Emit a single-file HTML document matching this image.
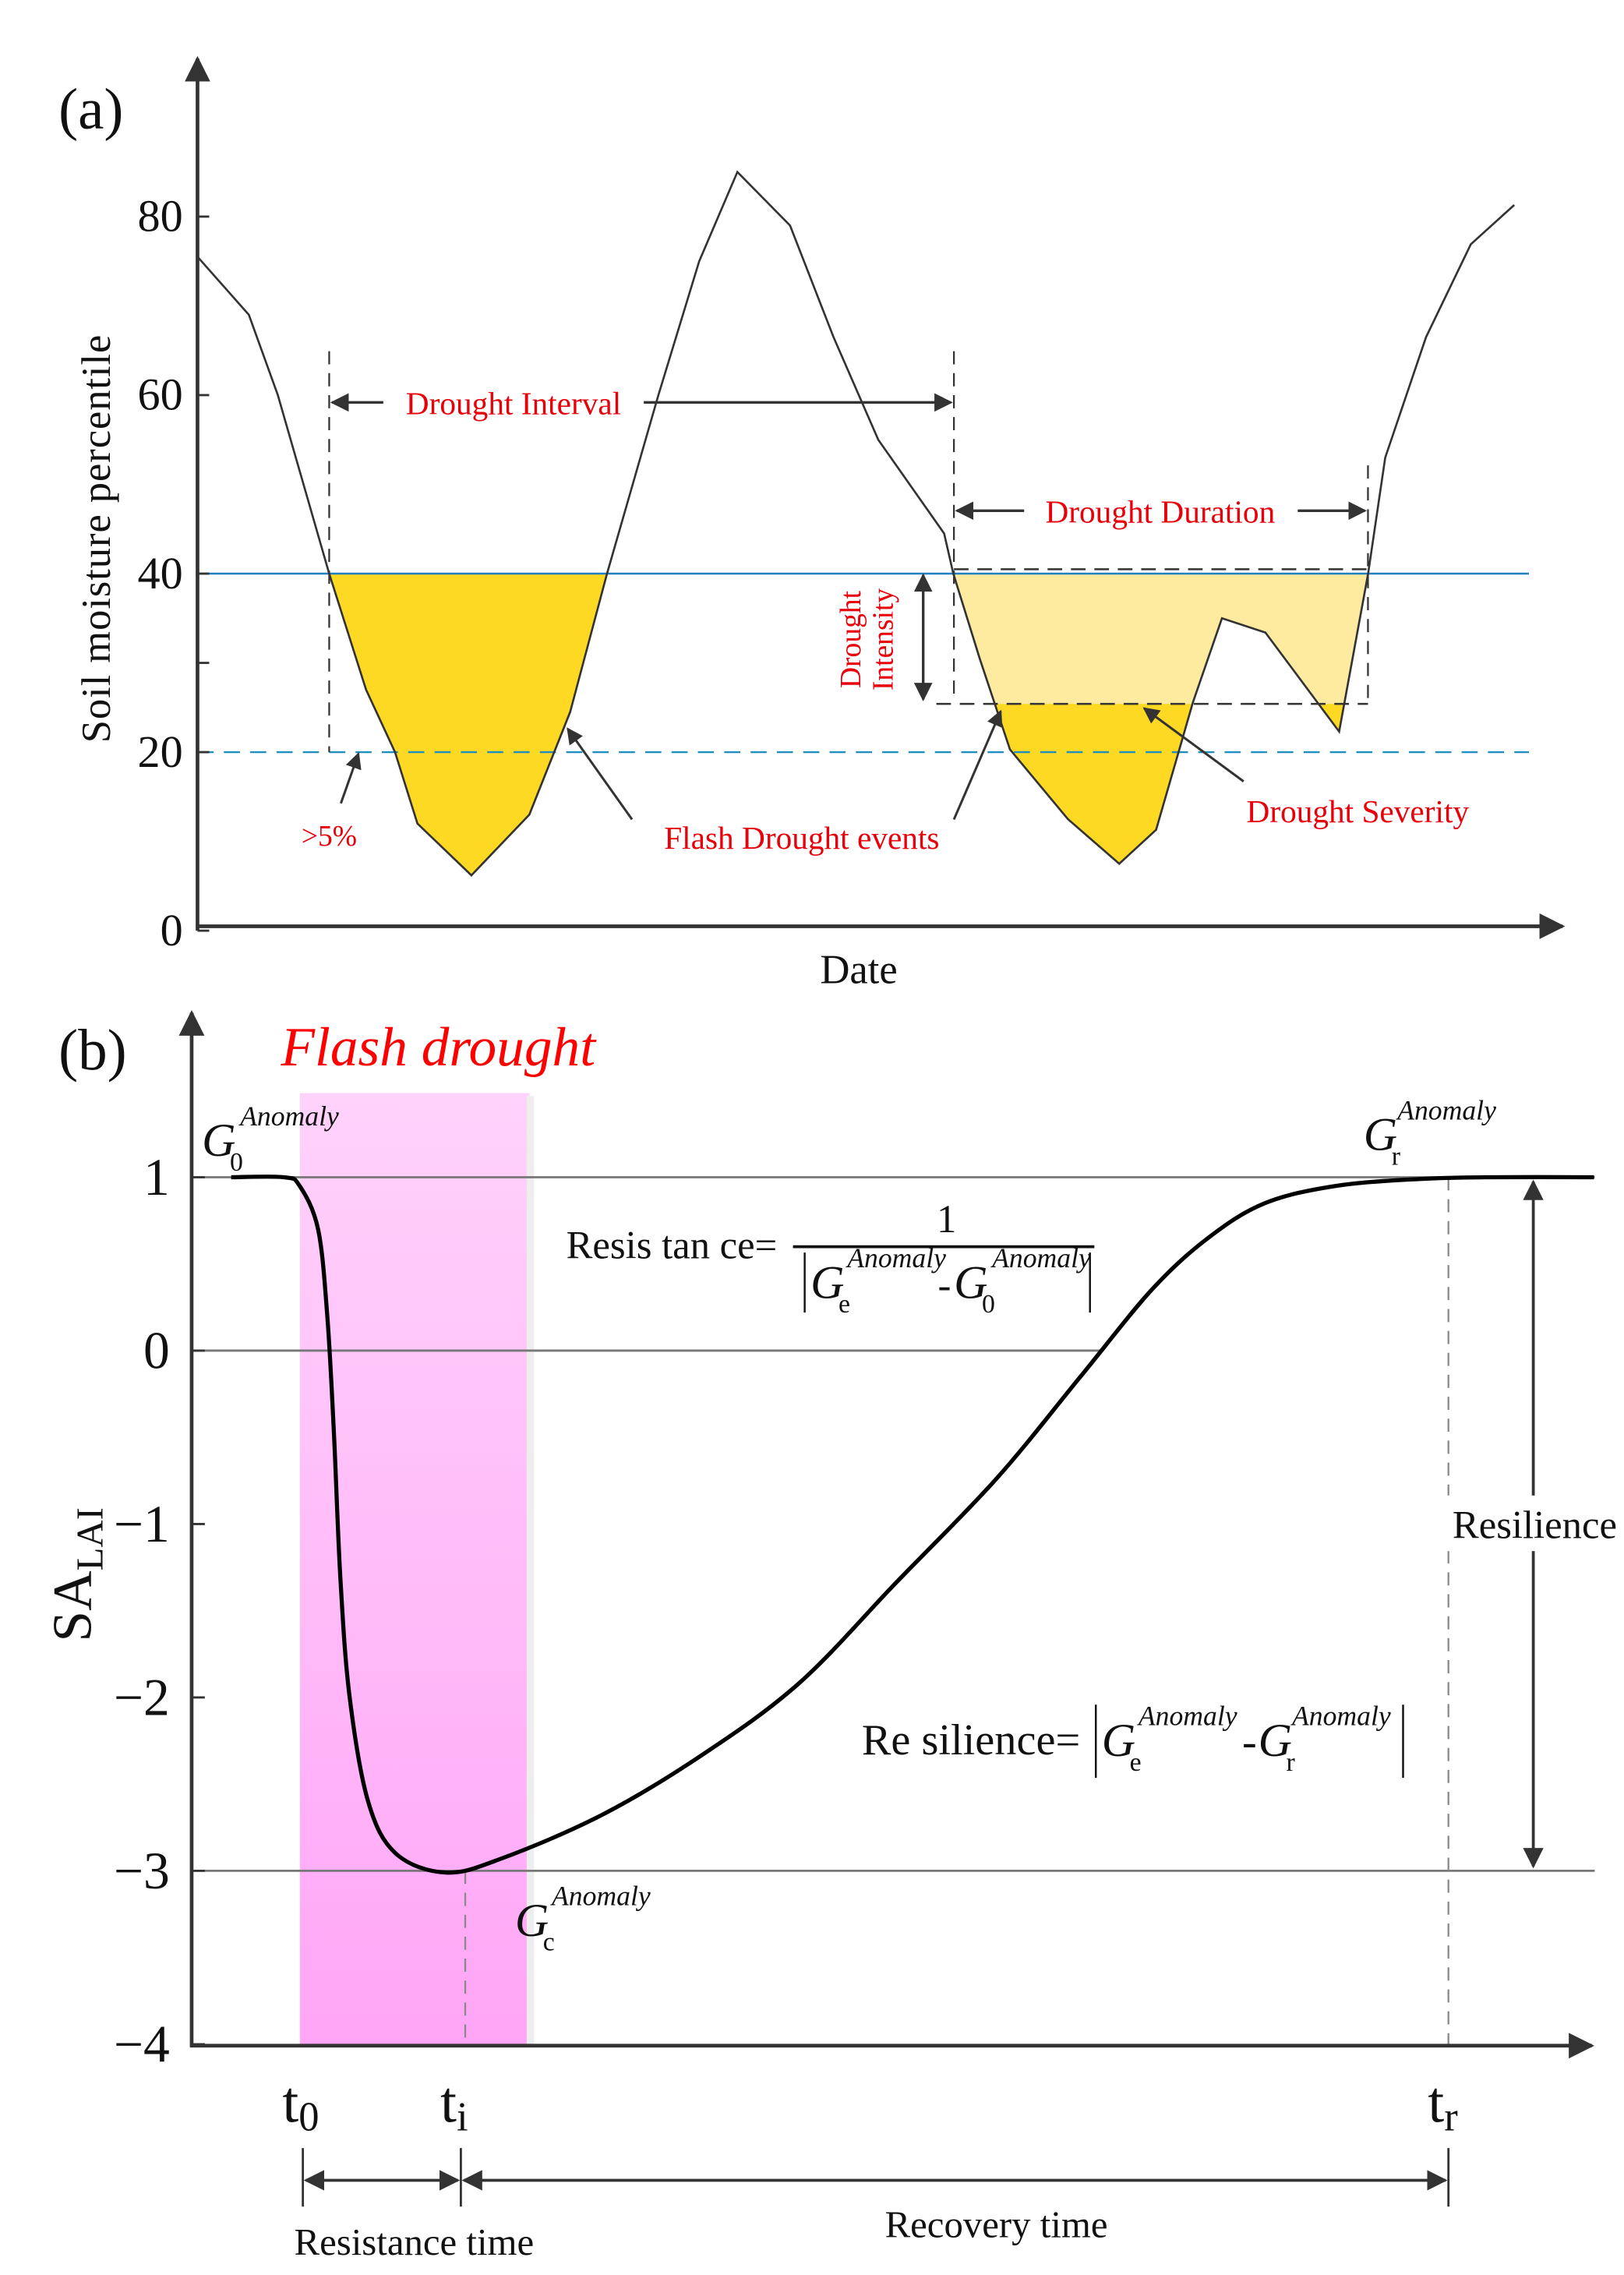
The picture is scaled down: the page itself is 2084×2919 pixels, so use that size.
<!DOCTYPE html>
<html><head><meta charset="utf-8"><style>
html,body{margin:0;padding:0;background:#fff;}
svg{display:block;font-family:"Liberation Serif",serif;}
</style></head><body>
<svg id="fig" width="2084" height="2919" viewBox="0 0 1110 1554.7" xmlns="http://www.w3.org/2000/svg">
<defs>
<marker id="ah" viewBox="0 0 10 10" refX="9" refY="5" markerWidth="7" markerHeight="7" orient="auto-start-reverse"><path d="M0,0 L10,5 L0,10 z" fill="#333"/></marker>
<linearGradient id="pink" x1="0" y1="0" x2="0" y2="1"><stop offset="0" stop-color="#ffd2fb"/><stop offset="1" stop-color="#ffa6f6"/></linearGradient>
<clipPath id="clipLow"><rect x="600" y="481" width="400" height="200"/></clipPath>
<clipPath id="clipHigh"><rect x="600" y="300" width="400" height="181"/></clipPath>
</defs>
<g id="panelA"></g>
<g id="panelB"></g>
</svg>
<script>
// ---- Panel (a) data ----
const aDays = [0,3.9,6.1,10,12.8,15,16.7,20.8,25.2,28.3,31.1,35,38.1,41,45,48.3,51.7,56.7,57.4,59.4,61.7,66.1,70,72.8,75.6,77.8,81.1,86.7,88.9,90.2,93.3,96.7,100];
const aValues = [75.5,69,60,40,27,20,12,6.2,13,24.5,40,60,75,85,79,66.5,55,44.5,40,30.5,20.3,12.5,7.5,11.3,25.6,35,33.4,22.3,40,53,66.5,76.9,81.3];
const aTicks = [0,20,40,60,80];
const threshold = 40, flashLevel = 20, intensityLevel = 25;
// ---- Panel (b) data ----
const bTimes = [3,7,8.2,9.6,10.3,10.8,11.3,12,13.4,15.5,19.3,23.5,31.1,38.6,46.1,53.6,61.1,67.5,72.9,77.2,81.5,86.9,93.3,98.7,106.5];
const bValues = [1,1,0.95,0.7,0.2,-0.47,-1.32,-2,-2.6,-2.9,-3.01,-2.93,-2.68,-2.34,-1.92,-1.33,-0.74,-0.15,0.35,0.65,0.85,0.95,0.99,1,1];
const bTicks = [1,0,-1,-2,-3,-4];

const NS="http://www.w3.org/2000/svg";
function mk(parent,tag,attrs,text){const e=document.createElementNS(NS,tag);for(const k in attrs)e.setAttribute(k,attrs[k]);if(text!==undefined)e.textContent=text;parent.appendChild(e);return e;}
const ax = d=>135+d*9;
const ay = v=>636-v*6.1;
const bx = t=>131+t*9;
const by = v=>923-v*118.5;

// ===== Panel A =====
const A=document.getElementById('panelA');
const pts=aDays.map((d,i)=>[ax(d),ay(aValues[i])]);
function region(i0,i1){let s=`M${pts[i0][0]},${ay(threshold)} `;for(let i=i0;i<=i1;i++)s+=`L${pts[i][0]},${pts[i][1]} `;return s+'Z';}
let f=mk(A,'path',{d:region(3,10),fill:'#fdd923'});

f=mk(A,'path',{d:region(18,28),fill:'#feeba0','clip-path':'url(#clipHigh)'});

f=mk(A,'path',{d:region(18,28),fill:'#fdd923','clip-path':'url(#clipLow)'});

let l=mk(A,'line',{x1:135,x2:1045,y1:ay(threshold),y2:ay(threshold),stroke:'#1f7fbf','stroke-width':1.3});

l=mk(A,'line',{x1:135,x2:1045,y1:ay(flashLevel),y2:ay(flashLevel),stroke:'#1f8fc0','stroke-width':1.3,'stroke-dasharray':'11 7'});

let c=mk(A,'polyline',{points:pts.map(p=>p.join(',')).join(' '),fill:'none',stroke:'#333','stroke-width':1.4});

mk(A,'line',{x1:135,y1:636,x2:135,y2:40,stroke:'#333','stroke-width':2.5,'marker-end':'url(#ah)'});
mk(A,'line',{x1:134,y1:633,x2:1068,y2:633,stroke:'#333','stroke-width':2.5,'marker-end':'url(#ah)'});
aTicks.forEach(v=>{mk(A,'line',{x1:135,x2:143,y1:ay(v),y2:ay(v),stroke:'#333','stroke-width':1.5});
 const t=mk(A,'text',{x:125,y:ay(v)+10,'font-size':31,'text-anchor':'end',fill:'#111'},v);
 });
mk(A,'line',{x1:135,x2:143,y1:ay(30),y2:ay(30),stroke:'#333','stroke-width':1.5});
let t=mk(A,'text',{x:40,y:88,'font-size':40,fill:'#111'},'(a)');
t=mk(A,'text',{x:587,y:672,'font-size':28,'text-anchor':'middle',fill:'#111'},'Date');
t=mk(A,'text',{x:0,y:0,'font-size':28,'text-anchor':'middle',fill:'#111',transform:'translate(75,368) rotate(-90)','letter-spacing':'0.5'},'Soil moisture percentile');
[[225,240,514],[652,240,480],[935,318,480]].forEach(v=>mk(A,'line',{x1:v[0],x2:v[0],y1:v[1],y2:v[2],stroke:'#333','stroke-width':1.2,'stroke-dasharray':'9 6'}));
mk(A,'line',{x1:652,x2:935,y1:389,y2:389,stroke:'#333','stroke-width':1.3,'stroke-dasharray':'10 6'});
mk(A,'line',{x1:640,x2:935,y1:481,y2:481,stroke:'#333','stroke-width':1.3,'stroke-dasharray':'10 6'});
mk(A,'line',{x1:227,x2:650,y1:275,y2:275,stroke:'#333','stroke-width':1.8,'marker-start':'url(#ah)','marker-end':'url(#ah)'});
mk(A,'rect',{x:262,y:260,width:178,height:28,fill:'#fff'});
t=mk(A,'text',{x:351,y:283,'font-size':22,'text-anchor':'middle',fill:'#e8000b'},'Drought Interval');
mk(A,'line',{x1:654,x2:933,y1:349,y2:349,stroke:'#333','stroke-width':1.8,'marker-start':'url(#ah)','marker-end':'url(#ah)'});
mk(A,'rect',{x:700,y:335,width:187,height:28,fill:'#fff'});
t=mk(A,'text',{x:793,y:357,'font-size':22,'text-anchor':'middle',fill:'#e8000b'},'Drought Duration');
mk(A,'line',{x1:631,x2:631,y1:393,y2:478,stroke:'#333','stroke-width':1.8,'marker-start':'url(#ah)','marker-end':'url(#ah)'});
t=mk(A,'text',{x:0,y:0,'font-size':20,'text-anchor':'middle',fill:'#e8000b',transform:'translate(588,437) rotate(-90)'},'Drought');
mk(A,'text',{x:0,y:0,'font-size':20,'text-anchor':'middle',fill:'#e8000b',transform:'translate(610,437) rotate(-90)'},'Intensity');
mk(A,'line',{x1:233,y1:549,x2:245,y2:515,stroke:'#333','stroke-width':1.6,'marker-end':'url(#ah)'});
t=mk(A,'text',{x:225,y:578,'font-size':20,'text-anchor':'middle',fill:'#e8000b'},'>5%');
mk(A,'line',{x1:432,y1:560,x2:388,y2:498,stroke:'#333','stroke-width':1.6,'marker-end':'url(#ah)'});
mk(A,'line',{x1:652,y1:560,x2:684,y2:486,stroke:'#333','stroke-width':1.6,'marker-end':'url(#ah)'});
t=mk(A,'text',{x:548,y:580,'font-size':22,'text-anchor':'middle',fill:'#e8000b'},'Flash Drought events');
mk(A,'line',{x1:850,y1:534,x2:782,y2:484,stroke:'#333','stroke-width':1.6,'marker-end':'url(#ah)'});
t=mk(A,'text',{x:928,y:562,'font-size':22,'text-anchor':'middle',fill:'#e8000b'},'Drought Severity');

// ===== Panel B =====
const B=document.getElementById('panelB');
let r=mk(B,'rect',{x:205,y:747,width:157,height:651,fill:'url(#pink)'});

mk(B,'rect',{x:360,y:749,width:5,height:649,fill:'#eee'});
t=mk(B,'text',{x:192,y:728,'font-size':38,'font-style':'italic',fill:'#f00'},'Flash drought');
mk(B,'line',{x1:131,x2:1090,y1:by(1),y2:by(1),stroke:'#777','stroke-width':1.5});
mk(B,'line',{x1:131,x2:752,y1:by(0),y2:by(0),stroke:'#777','stroke-width':1.5});
mk(B,'line',{x1:131,x2:1090,y1:by(-3),y2:by(-3),stroke:'#777','stroke-width':1.5});
mk(B,'line',{x1:318,x2:318,y1:by(-3),y2:1398,stroke:'#888','stroke-width':1.2,'stroke-dasharray':'9 6'});
mk(B,'line',{x1:990,x2:990,y1:by(1),y2:1398,stroke:'#888','stroke-width':1.2,'stroke-dasharray':'9 6'});
const bp=bTimes.map((tt,i)=>[bx(tt),by(bValues[i])]);
let d=`M${bp[0][0]},${bp[0][1]}`;
for(let i=0;i<bp.length-1;i++){const p0=bp[Math.max(0,i-1)],p1=bp[i],p2=bp[i+1],p3=bp[Math.min(bp.length-1,i+2)];
 d+=` C${p1[0]+(p2[0]-p0[0])/6},${p1[1]+(p2[1]-p0[1])/6} ${p2[0]-(p3[0]-p1[0])/6},${p2[1]-(p3[1]-p1[1])/6} ${p2[0]},${p2[1]}`;}
c=mk(B,'path',{d:d,fill:'none',stroke:'#000','stroke-width':2.8});

mk(B,'line',{x1:131,y1:1399,x2:131,y2:692,stroke:'#333','stroke-width':2.5,'marker-end':'url(#ah)'});
mk(B,'line',{x1:130,y1:1398,x2:1088,y2:1398,stroke:'#333','stroke-width':2.5,'marker-end':'url(#ah)'});
bTicks.forEach(v=>{mk(B,'line',{x1:131,x2:140,y1:by(v),y2:by(v),stroke:'#333','stroke-width':1.5});
 const tk=mk(B,'text',{x:116,y:by(v)+12,'font-size':36,'text-anchor':'end',fill:'#111'},v<0?'\u2212'+Math.abs(v):v);
 });
t=mk(B,'text',{x:40,y:731,'font-size':40,fill:'#111'},'(b)');
t=mk(B,'text',{x:0,y:0,'font-size':38,fill:'#111',transform:'translate(62,1122) rotate(-90)'});
t.innerHTML='SA<tspan font-size="26" dy="8">LAI</tspan>';
function G(x,y,sub,name){const g=mk(B,'text',{x:x,y:y,'font-size':32,'font-style':'italic',fill:'#111'});
 g.innerHTML=`G<tspan font-size="18" font-style="normal" dx="-4" dy="10">${sub}</tspan><tspan font-size="19" dx="-2" dy="-31">Anomaly</tspan>`;
 }
G(138,790,'0','g0-label');G(932,786,'r','gr-label');G(352,1323,'c','gc-label');
t=mk(B,'text',{x:387,y:860,'font-size':27,fill:'#111'},'Resis tan ce=');
mk(B,'line',{x1:542,x2:748,y1:852,y2:852,stroke:'#111','stroke-width':2});
mk(B,'text',{x:647,y:842,'font-size':27,'text-anchor':'middle',fill:'#111'},'1');
mk(B,'line',{x1:550,x2:550,y1:856,y2:897,stroke:'#111','stroke-width':1.3});
mk(B,'line',{x1:745,x2:745,y1:856,y2:897,stroke:'#111','stroke-width':1.3});
G(554,887,'e','ge-label');G(652,887,'0','g0-denominator');
mk(B,'text',{x:641,y:887,'font-size':27,fill:'#111'},'-');
t=mk(B,'text',{x:589,y:1199,'font-size':30,fill:'#111'},'Re silience=');
mk(B,'line',{x1:749,x2:749,y1:1165,y2:1215,stroke:'#111','stroke-width':1.3});
mk(B,'line',{x1:959,x2:959,y1:1165,y2:1215,stroke:'#111','stroke-width':1.3});
G(753,1200,'e','ge-label-2');G(860,1200,'r','gr-label-2');
mk(B,'text',{x:849,y:1200,'font-size':30,fill:'#111'},'-');
mk(B,'line',{x1:1048,x2:1048,y1:by(1)+3,y2:by(-3)-3,stroke:'#333','stroke-width':2,'marker-start':'url(#ah)','marker-end':'url(#ah)'});
mk(B,'rect',{x:988,y:1022,width:122,height:38,fill:'#fff'});
t=mk(B,'text',{x:1049,y:1051,'font-size':27,'text-anchor':'middle',fill:'#111'},'Resilience');
[[207,'0','t0-label'],[315,'i','ti-label'],[990,'r','tr-label']].forEach(a=>{const tl=mk(B,'text',{x:a[0]-14,y:1450,'font-size':40,fill:'#111'});
 tl.innerHTML=`t<tspan font-size="28" dy="6">${a[1]}</tspan>`;
 mk(B,'line',{x1:a[0],x2:a[0],y1:1468,y2:1508,stroke:'#333','stroke-width':1.5});});
mk(B,'line',{x1:209,x2:313,y1:1490,y2:1490,stroke:'#333','stroke-width':2,'marker-start':'url(#ah)','marker-end':'url(#ah)'});
mk(B,'line',{x1:317,x2:988,y1:1490,y2:1490,stroke:'#333','stroke-width':2,'marker-start':'url(#ah)','marker-end':'url(#ah)'});
t=mk(B,'text',{x:283,y:1541,'font-size':26,'text-anchor':'middle',fill:'#111'},'Resistance time');
t=mk(B,'text',{x:681,y:1529,'font-size':26,'text-anchor':'middle',fill:'#111'},'Recovery time');
</script>
</body></html>
